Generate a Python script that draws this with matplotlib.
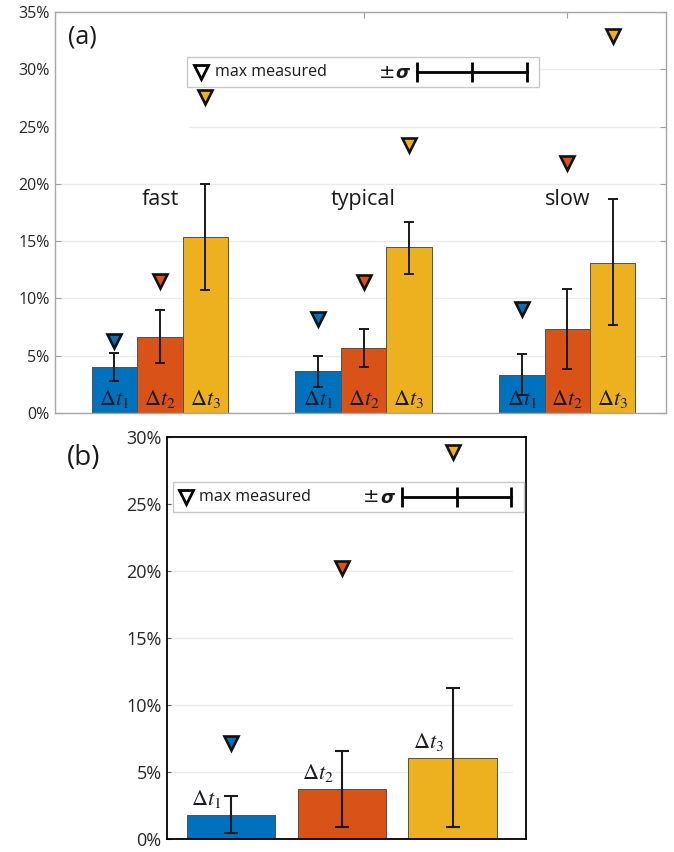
import matplotlib
matplotlib.use("Agg")
import matplotlib.pyplot as plt
from matplotlib.patches import Rectangle
import numpy as np

plt.rcParams['font.family'] = ['Open Sans', 'DejaVu Sans']
plt.rcParams['mathtext.fontset'] = 'stix'

# data (percent)
groups = ['fast', 'typical', 'slow']
dt_labels = [r'$\Delta t_1$', r'$\Delta t_2$', r'$\Delta t_3$']
colors = ['#0072BD', '#D95319', '#EDB120']

# panel (a): rows = fast / typical / slow, cols = dt1, dt2, dt3
a_mean = np.array([[4.0, 6.6, 15.35],
                   [3.65, 5.65, 14.45],
                   [3.35, 7.3, 13.1]])
a_low = np.array([[2.8, 4.4, 10.7],
                  [2.3, 4.0, 12.15],
                  [1.6, 3.85, 7.65]])
a_high = np.array([[5.25, 9.0, 20.0],
                   [4.95, 7.3, 16.7],
                   [5.15, 10.85, 18.65]])
a_max = np.array([[6.3, 11.5, 27.6],
                  [8.2, 11.4, 23.4],
                  [9.1, 21.8, 32.9]])

# panel (b)
b_mean = [1.8, 3.75, 6.07]
b_low = [0.45, 0.9, 0.9]
b_high = [3.2, 6.6, 11.3]
b_max = [7.2, 20.2, 28.9]

a_yticks = [0, 5, 10, 15, 20, 25, 30, 35]
b_yticks = [0, 5, 10, 15, 20, 25, 30]

W, H = 674, 852
fig = plt.figure(figsize=(W / 100, H / 100), dpi=100)


def fax(l, r, t, b):
    return fig.add_axes([l / W, 1 - b / H, (r - l) / W, (b - t) / H])


def draw_legend(ax, x0, x1, y0, y1, tri_x, txt_x, pm_x, sig_x, eb_x0, eb_x1, yc):
    ax.add_patch(Rectangle((x0, y0), x1 - x0, y1 - y0, transform=ax.transAxes,
                           facecolor='white', edgecolor='#c8c8c8', lw=1.0,
                           zorder=6, clip_on=False))
    ax.plot([tri_x], [yc], 'v', ms=10, mfc='white', mec='black', mew=2,
            transform=ax.transAxes, zorder=7, clip_on=False)
    ax.text(txt_x, yc, 'max measured', transform=ax.transAxes, fontsize=11.5,
            va='center', ha='left', color='#1a1a1a', zorder=7)
    ax.text(pm_x, yc, '±', transform=ax.transAxes, fontsize=14,
            va='center', ha='left', color='#1a1a1a', zorder=7,
            family='DejaVu Sans')
    ax.text(sig_x, yc - 0.003, 'σ', transform=ax.transAxes, fontsize=13,
            fontweight='bold', fontstyle='italic', family='DejaVu Sans',
            va='center', ha='left', color='#1a1a1a', zorder=7)
    xm = (eb_x0 + eb_x1) / 2
    ax.plot([eb_x0, xm, eb_x1], [yc] * 3, '-', color='black', lw=2,
            marker='|', ms=14, mew=2, transform=ax.transAxes, zorder=7,
            clip_on=False)


# ---------- panel (a) ----------
ax = fax(55, 666, 12, 413)
x = np.arange(1, len(groups) + 1)
bw = 0.223
for j in range(3):
    xs = x + (j - 1) * bw
    ax.bar(xs, a_mean[:, j], width=bw, color=colors[j], edgecolor='#505050',
           linewidth=0.7, zorder=2)
    ax.errorbar(xs, a_mean[:, j],
                yerr=[a_mean[:, j] - a_low[:, j], a_high[:, j] - a_mean[:, j]],
                fmt='none', ecolor='#1a1a1a', elinewidth=1.4, capsize=3.6,
                capthick=1.4, zorder=4)
    ax.plot(xs, a_max[:, j], 'v', ms=10.5, mfc=colors[j], mec='#111111',
            mew=1.9, zorder=5)
    for k in range(len(groups)):
        ax.text(xs[k], 1.25, dt_labels[j], ha='center', va='center',
                fontsize=16, color='#1a1a2a', zorder=6)
for k, g in enumerate(groups):
    ax.text(x[k], 18.6, g, ha='center', va='center', fontsize=15.5,
            color='#1a1a1a', zorder=6)

ax.set_xlim(0.485, 3.485)
ax.set_ylim(0, 35)
ax.set_yticks(a_yticks)
ax.set_yticklabels([f'{v}%' for v in a_yticks])
ax.set_xticks(x)
ax.set_xticklabels([])
ax.tick_params(direction='in', length=4, color='#a0a0a0', labelsize=11.5,
               labelcolor='#262626', top=True, right=True, pad=4)
for s in ax.spines.values():
    s.set_color('#a6a6a6')
    s.set_linewidth(1.0)
ax.grid(axis='y', color='#ebebeb', lw=1.0, zorder=0)
ax.set_axisbelow(True)
# white block behind the panel label
ax.add_patch(Rectangle((0, 0.65), 0.22, 0.35, transform=ax.transAxes,
                       facecolor='white', edgecolor='none', zorder=1))
draw_legend(ax, 0.216, 0.792, 0.813, 0.888, 0.239, 0.262, 0.530, 0.557,
            0.592, 0.772, 0.850)
fig.text(82 / W, 1 - 37 / H, '(a)', fontsize=18, ha='center', va='center',
         color='#1a1a1a')

# ---------- panel (b) ----------
bx = fax(167, 526, 437, 839)
xb = np.arange(1, 4)
bx.bar(xb, b_mean, width=0.8, color=colors, edgecolor='#505050',
       linewidth=0.7, zorder=2)
bx.errorbar(xb, b_mean,
            yerr=[np.array(b_mean) - np.array(b_low),
                  np.array(b_high) - np.array(b_mean)],
            fmt='none', ecolor='#1a1a1a', elinewidth=1.5, capsize=5,
            capthick=1.5, zorder=4)
for j in range(3):
    bx.plot([xb[j]], [b_max[j]], 'v', ms=10.5, mfc=colors[j], mec='#111111',
            mew=1.9, zorder=5)
    bx.text(xb[j] - 0.22, b_mean[j] + 1.2, dt_labels[j], ha='center',
            va='center', fontsize=16, color='#1a1a2a', zorder=6)
bx.set_xlim(0.422, 3.662)
bx.set_ylim(0, 30)
bx.set_yticks(b_yticks)
bx.set_yticklabels([f'{v}%' for v in b_yticks])
bx.set_xticks([])
bx.tick_params(direction='in', length=3, color='#606060', labelsize=13,
               labelcolor='#262626', pad=4)
for s in bx.spines.values():
    s.set_color('black')
    s.set_linewidth(1.3)
for v in b_yticks[1:]:
    bx.axhline(v, xmin=0, xmax=0.961, color='#ebebeb', lw=1.0, zorder=0)
draw_legend(bx, 0.0167, 0.994, 0.813, 0.888, 0.053, 0.089, 0.547, 0.594,
            0.655, 0.958, 0.851)
fig.text(84 / W, 1 - 458 / H, '(b)', fontsize=20, ha='center', va='center',
         color='#1a1a1a')

fig.savefig('out.png', dpi=100)
